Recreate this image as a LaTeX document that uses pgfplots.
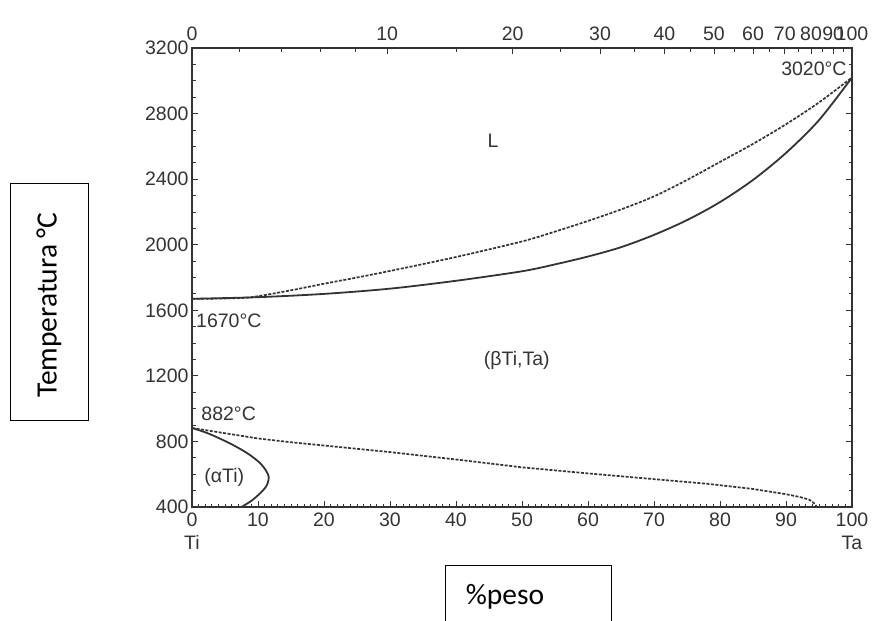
\documentclass[border=0pt]{standalone}
\usepackage{pgfplots}
\pgfplotsset{compat=1.18}
\usepackage{fontspec}
\setmainfont{Liberation Sans}
\newfontfamily\boxfont{Carlito}
\definecolor{ink}{HTML}{333333}
\newcommand\cf{\fontsize{19.5}{23}\selectfont}
\begin{document}
\begin{tikzpicture}
\path[use as bounding box] (0pt,0pt) rectangle (884pt,-621pt);
% boxed labels
\draw[line width=0.8pt] (10pt,-183pt) rectangle (88pt,-420pt);
\node[rotate=90, inner sep=0pt] at (49pt,-305pt) {\boxfont\fontsize{29.5}{33}\selectfont Temperatura °C};
\draw[line width=0.8pt] (445pt,-565pt) rectangle (611pt,-630pt);
\node[inner sep=0pt] at (505pt,-597pt) {\boxfont\fontsize{29.5}{33}\selectfont \%peso};
\pgfplotsset{
  common/.style={
    at={(192pt,-507pt)}, anchor=south west, scale only axis,
    width=660pt, height=459pt,
    xmin=0, xmax=100, ymin=400, ymax=3200,
    axis line style={ink, line width=1.4pt},
    tick style={ink, line width=0.8pt},
    major tick length=6pt, minor tick length=3.5pt,
    /pgf/number format/assume math mode=true,
    tick label style={font=\cf, text=ink},
  }
}
\begin{axis}[common,
  xtick={0,10,...,100},
  xticklabels={{0\\Ti},10,20,30,40,50,60,70,80,90,{100\\Ta}},
  xticklabel style={align=center, font=\cf},
  minor x tick num=9,
  xtick pos=left,
  ytick={400,800,...,3200},
  minor y tick num=3,
  ytick pos=both, yticklabel pos=left,
  /pgf/number format/1000 sep={},
  xticklabel shift=2pt, yticklabel shift=0pt,
]
\addplot[ink, line width=1.7pt, dash pattern=on 3pt off 1.5pt, smooth] coordinates {
(0,1670) (5,1672) (9,1680) (15,1722) (20,1762) (25,1800) (30,1840) (40,1925)
(50,2020) (55,2080) (60,2145) (65,2215) (70,2295) (75,2395) (80,2505)
(85,2615) (90,2735) (95,2868) (100,3020)};
\addplot[ink, line width=1.8pt, smooth] coordinates {
(0,1670) (10,1680) (20,1700) (30,1732) (40,1780) (50,1838) (55,1880) (60,1928)
(65,1985) (70,2060) (75,2150) (80,2260) (85,2395) (90,2560) (95,2760) (100,3020)};
\addplot[ink, line width=1.7pt, dash pattern=on 3pt off 1.5pt] coordinates {
(0,882) (5,850) (10,818) (15,795) (20,775) (25,755) (30,735) (40,690)
(50,642) (60,605) (70,570) (78,542) (85,510) (90,478) (92,462) (93.5,445)
(94.2,425) (94.7,400)};
\addplot[ink, line width=1.8pt, smooth] coordinates {
(0,882) (2.5,848) (5.8,787) (8.5,725) (10.5,660) (11.6,590) (11.3,530)
(10.3,483) (9,438) (7.5,400)};
\node[font=\cf, text=ink] at (axis cs:45.6,2636) {L};
\node[font=\cf, text=ink] at (axis cs:49.2,1295) {(βTi,Ta)};
\node[font=\cf, text=ink, anchor=west, inner sep=0pt] at (axis cs:0.6,1536) {1670°C};
\node[font=\cf, text=ink, anchor=west, inner sep=0pt] at (axis cs:1.4,971) {882°C};
\node[font=\cf, text=ink, anchor=east, inner sep=0pt] at (axis cs:99.2,3072) {3020°C};
\node[font=\cf, text=ink] at (axis cs:4.9,582) {(αTi)};
\end{axis}
\begin{axis}[common,
  xtick={0,29.58,48.59,61.83,71.59,79.08,85.01,89.82,93.80,97.14,100},
  xticklabels={0,10,20,30,40,50,60,70,80,90,100},
  minor xtick={7.16,13.61,19.44,24.74,40.02,55.75,67.06,75.57,82.21,87.53,91.89,95.54,98.63},
  xtick pos=right, xticklabel pos=right,
  ytick=\empty,
  xticklabel style={inner xsep=0pt},
  xticklabel shift=4pt,
]
\end{axis}
\end{tikzpicture}
\end{document}
